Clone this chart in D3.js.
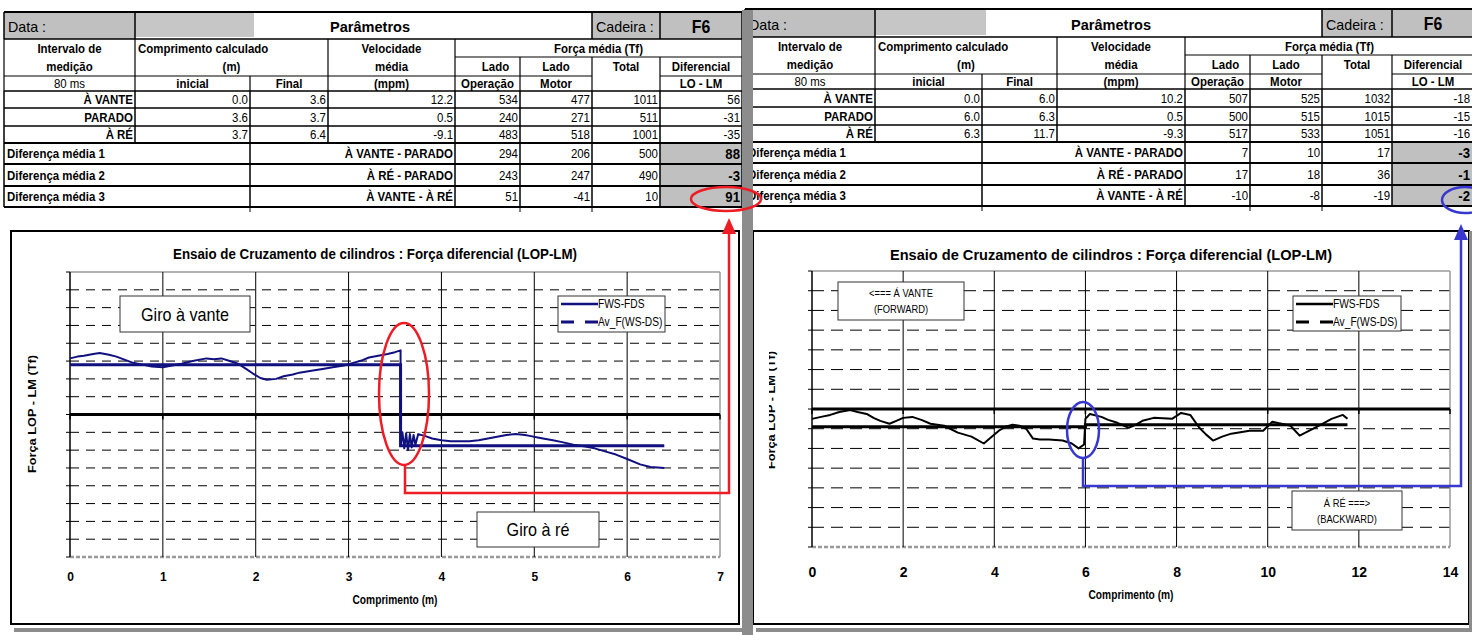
<!DOCTYPE html>
<html>
<head>
<meta charset="utf-8">
<script src="https://cdnjs.cloudflare.com/ajax/libs/d3/7.8.5/d3.min.js"></script>
<style>
  body { margin: 0; background: #fff; }
  svg { display: block; }
</style>
</head>
<body>
<script>
// ---------- data ----------
const rowLabels = ["À VANTE", "PARADO", "À RÉ"];
const diffLabels = ["Diferença média 1", "Diferença média 2", "Diferença média 3"];
const diffPairs = ["À VANTE - PARADO", "À RÉ - PARADO", "À VANTE - À RÉ"];

// inicial, final, velocidade, lado op, lado motor, total, diferencial
const leftRows = [
  ["0.0", "3.6", "12.2", "534", "477", "1011", "56"],
  ["3.6", "3.7", "0.5", "240", "271", "511", "-31"],
  ["3.7", "6.4", "-9.1", "483", "518", "1001", "-35"]
];
const leftDiffs = [
  ["294", "206", "500", "88"],
  ["243", "247", "490", "-3"],
  ["51", "-41", "10", "91"]
];
const rightRows = [
  ["0.0", "6.0", "10.2", "507", "525", "1032", "-18"],
  ["6.0", "6.3", "0.5", "500", "515", "1015", "-15"],
  ["6.3", "11.7", "-9.3", "517", "533", "1051", "-16"]
];
const rightDiffs = [
  ["7", "10", "17", "-3"],
  ["17", "18", "36", "-1"],
  ["-10", "-8", "-19", "-2"]
];

// force differential curves [comprimento (m), LOP-LM (Tf)]
const leftFws = [[0,63],[0.08,65],[0.15,66],[0.25,68],[0.32,69],[0.42,67],[0.5,65],[0.6,61],[0.68,58],
  [0.78,56],[0.88,54],[1.0,53],[1.1,55],[1.2,57],[1.32,60],[1.47,63],[1.55,62],[1.63,63],[1.72,60],
  [1.81,57],[1.9,51],[1.97,46],[2.05,41],[2.12,39],[2.22,40],[2.3,43],[2.4,45],[2.47,47],[2.6,49],
  [2.72,51],[2.83,53],[2.95,55],[3.05,58],[3.15,61],[3.22,64],[3.32,66],[3.42,68],[3.5,70],[3.56,72],
  [3.56,-35],[3.58,-20],[3.6,-38],[3.62,-21],[3.64,-40],[3.66,-22],[3.68,-37],[3.7,-23],[3.72,-34],
  [3.75,-22],[3.82,-24],[3.9,-27],[4.0,-29],[4.1,-30],[4.2,-30],[4.3,-30],[4.4,-29],[4.5,-27],
  [4.6,-25],[4.7,-23],[4.8,-22],[4.9,-23],[4.95,-24],[5.05,-26],[5.2,-29],[5.3,-31],[5.42,-34],
  [5.55,-36],[5.65,-38],[5.78,-42],[5.88,-45],[6.0,-50],[6.14,-56],[6.25,-59],[6.4,-60]];
const leftAvg = [[0,56],[3.56,56],[3.56,-35],[6.4,-35]];

const rightFws = [[0,-10],[0.2,-8],[0.4,-6],[0.6,-3],[0.84,-1],[1.0,-3],[1.2,-5],[1.35,-9],[1.5,-12],
  [1.7,-15],[1.85,-12],[2.0,-9],[2.2,-8],[2.4,-11],[2.6,-15],[2.9,-17],[3.2,-24],[3.5,-28],[3.77,-35],
  [3.95,-28],[4.1,-22],[4.25,-18],[4.4,-16],[4.55,-17],[4.7,-20],[4.85,-30],[5.0,-31],[5.2,-31],
  [5.5,-32],[5.7,-35],[5.85,-40],[5.97,-36],[6.0,-10],[6.1,-5],[6.35,-8],[6.5,-11],[6.7,-14],
  [6.95,-19],[7.1,-16],[7.25,-12],[7.5,-9],[7.9,-10],[8.1,-4],[8.3,-6],[8.5,-19],[8.65,-26],[8.8,-32],
  [9.0,-28],[9.2,-25],[9.6,-22],[9.9,-22],[10.1,-13],[10.3,-15],[10.5,-17],[10.7,-27],[11.0,-20],
  [11.2,-15],[11.4,-10],[11.65,-6],[11.75,-10]];
const rightAvg = [[0,-18],[6.0,-18],[6.0,-16],[11.75,-16]];

const leftXTicks = [0, 1, 2, 3, 4, 5, 6, 7];
const rightXTicks = [0, 2, 4, 6, 8, 10, 12, 14];
const leftYTicks = [-160,-140,-120,-100,-80,-60,-40,-20,0,20,40,60,80,100,120,140,160];
const rightYTicks = [-140,-120,-100,-80,-60,-40,-20,0,20,40,60,80,100,120,140];

const FONT = "'Liberation Sans', Arial, Helvetica, sans-serif";
const GRAY = "#c0c0c0";

const svg = d3.select("body").append("svg")
  .attr("width", 1472).attr("height", 635)
  .style("background", "#fff");

// text helper: arial-ish, squeezed a bit like the narrow print in the scan
function txt(g, x, y, s, o = {}) {
  const t = g.append("text")
    .attr("x", x).attr("y", y)
    .attr("font-family", FONT)
    .attr("font-size", o.size || 13)
    .attr("font-weight", o.bold ? "bold" : "normal")
    .attr("text-anchor", o.anchor || "start")
    .attr("dominant-baseline", "central")
    .attr("fill", o.fill || "#000")
    .text(s);
  const k = o.k === undefined ? 0.88 : o.k;
  if (o.len) {
    t.attr("textLength", o.len).attr("lengthAdjust", "spacingAndGlyphs");
  } else if (k !== 1) {
    const w = t.node().getComputedTextLength();
    t.attr("textLength", w * k).attr("lengthAdjust", "spacingAndGlyphs");
  }
  return t;
}

function hline(g, x0, x1, y, w = 1.5, col = "#000") {
  g.append("line").attr("x1", x0).attr("x2", x1).attr("y1", y).attr("y2", y)
    .attr("stroke", col).attr("stroke-width", w);
}
function vline(g, x, y0, y1, w = 1.5, col = "#000") {
  g.append("line").attr("x1", x).attr("x2", x).attr("y1", y0).attr("y2", y1)
    .attr("stroke", col).attr("stroke-width", w);
}

// ---------- tables ----------
function drawTable(c, r, rows, diffs, lastPad) {
  const g = svg.append("g");
  const mid = i => (r[i] + r[i + 1]) / 2;
  const right = j => (j === 8 ? c[8] - lastPad : c[j] - 2);

  // row 0 : Data / Parâmetros / Cadeira / F6
  g.append("rect").attr("x", c[0]).attr("y", r[0]).attr("width", c[1] - c[0]).attr("height", r[1] - r[0]).attr("fill", GRAY);
  g.append("rect").attr("x", c[1]).attr("y", r[0] + 1).attr("width", c[2] - c[1] + 4).attr("height", r[1] - r[0] - 3).attr("fill", "#c6c6c6");
  g.append("rect").attr("x", c[6]).attr("y", r[0]).attr("width", c[7] - c[6]).attr("height", r[1] - r[0]).attr("fill", GRAY);
  g.append("rect").attr("x", c[7]).attr("y", r[0]).attr("width", c[8] - c[7]).attr("height", r[1] - r[0]).attr("fill", GRAY);
  txt(g, c[0] + 4, mid(0) + 1, "Data :", { size: 15, k: 0.95 });
  txt(g, c[0] + 366, mid(0) + 1, "Parâmetros", { size: 15, bold: true, anchor: "middle", k: 0.97 });
  txt(g, c[6] + 4, mid(0) + 1, "Cadeira :", { size: 15, k: 0.95 });
  txt(g, (c[7] + c[8]) / 2, mid(0) + 1, "F6", { size: 18, bold: true, anchor: "middle" });

  // header rows
  const hb = { bold: true, anchor: "middle" };
  txt(g, (c[0] + c[1]) / 2, mid(1), "Intervalo de", hb);
  txt(g, c[1] + 3, mid(1), "Comprimento calculado", { bold: true });
  txt(g, (c[3] + c[4]) / 2, mid(1), "Velocidade", hb);
  txt(g, (c[4] + c[8]) / 2, mid(1), "Força média (Tf)", hb);
  txt(g, (c[0] + c[1]) / 2, mid(2), "medição", hb);
  txt(g, (c[1] + c[3]) / 2, mid(2), "(m)", hb);
  txt(g, (c[3] + c[4]) / 2, mid(2), "média", hb);
  txt(g, (c[4] + c[5]) / 2 + 8, mid(2), "Lado", hb);
  txt(g, (c[5] + c[6]) / 2, mid(2), "Lado", hb);
  txt(g, (c[6] + c[7]) / 2, mid(2), "Total", hb);
  txt(g, (c[7] + c[8]) / 2, mid(2), "Diferencial", hb);
  txt(g, (c[0] + c[1]) / 2, mid(3), "80 ms", { anchor: "middle" });
  txt(g, (c[1] + c[2]) / 2, mid(3), "inicial", hb);
  txt(g, (c[2] + c[3]) / 2, mid(3), "Final", hb);
  txt(g, (c[3] + c[4]) / 2, mid(3), "(mpm)", hb);
  txt(g, (c[4] + c[5]) / 2, mid(3), "Operação", hb);
  txt(g, (c[5] + c[6]) / 2, mid(3), "Motor", hb);
  txt(g, (c[7] + c[8]) / 2, mid(3), "LO - LM", hb);

  // measured rows
  rows.forEach((vals, i) => {
    const y = mid(4 + i);
    txt(g, c[1] - 2, y, rowLabels[i], { bold: true, anchor: "end" });
    vals.forEach((v, j) => txt(g, right(j + 2), y, v, { anchor: "end" }));
  });

  // difference rows
  diffs.forEach((vals, i) => {
    const y = mid(7 + i);
    g.append("rect").attr("x", c[7]).attr("y", r[7 + i]).attr("width", c[8] - c[7]).attr("height", r[8 + i] - r[7 + i]).attr("fill", GRAY);
    txt(g, c[0] + 3, y, diffLabels[i], { bold: true });
    txt(g, c[4] - 2, y, diffPairs[i], { bold: true, anchor: "end" });
    vals.forEach((v, j) => {
      const last = j === 3;
      txt(g, right(j + 5), y, v, { anchor: "end", bold: last, size: last ? 15 : 13 });
    });
  });

  // grid lines
  hline(g, c[0], c[8], r[0], 2);
  hline(g, c[0], c[8], r[1], 1.5);
  hline(g, c[4], c[8], r[2], 1.2);
  hline(g, c[0], c[6], r[3], 1.2);
  hline(g, c[7], c[8], r[3], 1.2);
  for (let i = 4; i <= 10; i++) hline(g, c[0], c[8], r[i], i >= 7 ? 2 : 1.5);
  [0, 1, 6, 7, 8].forEach(j => vline(g, c[j], r[0], r[1], 1.5));
  [0, 1, 3, 4, 8].forEach(j => vline(g, c[j], r[1], r[4], 1.2));
  [5, 6, 7].forEach(j => vline(g, c[j], r[2], r[4], 1.2));
  vline(g, c[2], r[3], r[4], 1.2);
  [0, 1, 2, 3, 4, 5, 6, 7, 8].forEach(j => vline(g, c[j], r[4], r[7], 1.5));
  [0, 2, 4, 5, 6, 7, 8].forEach(j => vline(g, c[j], r[7], r[10], 1.5));
  [2, 5, 6].forEach(j => vline(g, c[j], r[10], r[10] + 5, 1));
}

drawTable([4, 135, 250, 328, 455, 520, 592, 660, 742],
          [12, 39, 57, 76, 91, 108, 126, 143, 164, 186, 207], leftRows, leftDiffs, 2);
drawTable([745, 875, 982, 1057, 1185, 1250, 1322, 1392, 1474],
          [9, 37, 55, 74, 89, 107, 125, 142, 163, 185, 206], rightRows, rightDiffs, 4);

// ---------- charts ----------
function drawChart(cfg) {
  const g = svg.append("g");
  const p = cfg.plot;
  const x = d3.scaleLinear().domain(cfg.xDomain).range([p.x0, p.x1]);
  const y = d3.scaleLinear().domain(cfg.yDomain).range([p.y1, p.y0]);

  // box + shadow
  g.append("rect").attr("x", cfg.box.x0 + 3).attr("y", cfg.box.y1 + 4)
    .attr("width", cfg.box.x1 - cfg.box.x0).attr("height", 4).attr("fill", "#8c8c8c");
  g.append("rect").attr("x", cfg.box.x0).attr("y", cfg.box.y0)
    .attr("width", cfg.box.x1 - cfg.box.x0).attr("height", cfg.box.y1 - cfg.box.y0)
    .attr("fill", "#fff").attr("stroke", "#000").attr("stroke-width", 2);

  txt(g, (cfg.box.x0 + cfg.box.x1) / 2, cfg.titleY, cfg.title,
      { size: cfg.titleSize, bold: true, anchor: "middle", len: cfg.titleLen });

  // horizontal grid
  cfg.yTicks.forEach(t => {
    const yy = y(t);
    if (t === 0) return;
    if (t === cfg.yDomain[1]) { hline(g, p.x0, p.x1, yy, 1.5, "#9a9a9a"); return; }
    if (t === cfg.yDomain[0]) {
      g.append("line").attr("x1", p.x0).attr("x2", p.x1).attr("y1", yy).attr("y2", yy)
        .attr("stroke", "#9a9a9a").attr("stroke-width", 2.5).attr("stroke-dasharray", "4,2");
      return;
    }
    g.append("line").attr("x1", p.x0).attr("x2", p.x1).attr("y1", yy).attr("y2", yy)
      .attr("stroke", "#000").attr("stroke-width", 1).attr("stroke-dasharray", cfg.dash);
  });
  // vertical grid
  cfg.xTicks.forEach((t, i) => {
    if (i === 0) return;
    const last = i === cfg.xTicks.length - 1;
    vline(g, x(t), p.y0, p.y1, last ? 1.5 : 1, last ? "#9a9a9a" : "#000");
  });
  // left axis with ticks
  vline(g, p.x0, p.y0, p.y1, 1.5);
  cfg.yTicks.forEach(t => hline(g, p.x0 - 4, p.x0, y(t), 1));
  // zero line
  hline(g, p.x0, p.x1, y(0), 3);
  cfg.xTicks.forEach(t => vline(g, x(t), y(0), y(0) + 5, 1.5));

  // x axis labels
  const ax = d3.axisBottom(x).tickValues(cfg.xTicks).tickSize(0).tickPadding(0).tickFormat(d3.format("d"));
  const axg = g.append("g").attr("transform", `translate(0,${cfg.xLabelY})`).call(ax);
  axg.select(".domain").remove();
  axg.selectAll("text")
    .attr("font-family", FONT).attr("font-size", cfg.xLabelSize).attr("font-weight", "bold")
    .attr("fill", "#000").attr("dy", null).attr("y", 0).attr("dominant-baseline", "central");

  txt(g, (p.x0 + p.x1) / 2, cfg.xTitleY, "Comprimento (m)", { size: 12, bold: true, anchor: "middle", k: 0.85 });

  // y axis title
  const yl = g.append("g");
  if (cfg.yLabelClip) {
    svg.append("clipPath").attr("id", "ylclip").append("rect")
      .attr("x", cfg.yLabelClip).attr("y", 300).attr("width", 40).attr("height", 250);
    yl.attr("clip-path", "url(#ylclip)");
  }
  txt(yl, 0, 0, "Força LOP - LM (Tf)", { size: 11, bold: true, anchor: "middle", len: 118 })
    .attr("transform", `translate(${cfg.yLabelX},${cfg.yLabelY}) rotate(-90)`);

  // series
  const line = d3.line().x(d => x(d[0])).y(d => y(d[1]));
  g.append("path").datum(cfg.avg).attr("d", line)
    .attr("fill", "none").attr("stroke", cfg.color).attr("stroke-width", 3);
  g.append("path").datum(cfg.fws).attr("d", line)
    .attr("fill", "none").attr("stroke", cfg.color).attr("stroke-width", 2).attr("stroke-linejoin", "round");

  // legend
  const L = cfg.legend;
  g.append("rect").attr("x", L.x0).attr("y", L.y0).attr("width", L.x1 - L.x0).attr("height", L.y1 - L.y0)
    .attr("fill", "#fff").attr("stroke", "#333").attr("stroke-width", 1);
  const ly1 = L.y0 + 8, ly2 = L.y0 + 26;
  g.append("line").attr("x1", L.x0 + 3).attr("x2", L.x0 + 40).attr("y1", ly1).attr("y2", ly1)
    .attr("stroke", cfg.color).attr("stroke-width", 2.5);
  g.append("line").attr("x1", L.x0 + 3).attr("x2", L.x0 + 40).attr("y1", ly2).attr("y2", ly2)
    .attr("stroke", cfg.color).attr("stroke-width", 3).attr("stroke-dasharray", "13,11");
  txt(g, L.x0 + 40, ly1, "FWS-FDS", { size: 12, k: 0.85 });
  txt(g, L.x0 + 40, ly2, "Av_F(WS-DS)", { size: 12, k: 0.85 });

  return g;
}

function noteBox(x0, y0, x1, y1, lines, size) {
  const g = svg.append("g");
  g.append("rect").attr("x", x0).attr("y", y0).attr("width", x1 - x0).attr("height", y1 - y0)
    .attr("fill", "#fff").attr("stroke", "#333").attr("stroke-width", 1);
  const step = size + 5;
  const top = (y0 + y1) / 2 - (lines.length - 1) * step / 2;
  lines.forEach((s, i) => txt(g, (x0 + x1) / 2, top + i * step, s, { size, anchor: "middle", k: 0.85 }));
}

drawChart({
  box: { x0: 11, y0: 231, x1: 739, y1: 624 },
  plot: { x0: 70, y0: 272, x1: 720, y1: 557 },
  xDomain: [0, 7], yDomain: [-160, 160],
  xTicks: leftXTicks, yTicks: leftYTicks,
  title: "Ensaio de Cruzamento de cilindros : Força diferencial (LOP-LM)",
  titleY: 254, titleSize: 14, titleLen: 404,
  dash: "9,7", xLabelY: 577, xLabelSize: 12, xTitleY: 600,
  yLabelX: 32, yLabelY: 414,
  color: "#10107f", fws: leftFws, avg: leftAvg,
  legend: { x0: 558, y0: 296, x1: 665, y1: 332 }
});
noteBox(120, 296, 250, 332, ["Giro à vante"], 19);
noteBox(477, 512, 599, 547, ["Giro à ré"], 19);

drawChart({
  box: { x0: 753, y0: 231, x1: 1469, y1: 624 },
  plot: { x0: 812, y0: 271, x1: 1450, y1: 547 },
  xDomain: [0, 14], yDomain: [-140, 140],
  xTicks: rightXTicks, yTicks: rightYTicks,
  title: "Ensaio de Cruzamento de cilindros : Força diferencial (LOP-LM)",
  titleY: 254, titleSize: 15, titleLen: 442,
  dash: "12,7", xLabelY: 572, xLabelSize: 14, xTitleY: 595,
  yLabelX: 771, yLabelY: 410, yLabelClip: 769,
  color: "#000", fws: rightFws, avg: rightAvg,
  legend: { x0: 1293, y0: 296, x1: 1401, y1: 331 }
});
noteBox(838, 282, 964, 320, ["<=== Á VANTE", "(FORWARD)"], 11);
noteBox(1292, 491, 1402, 530, ["Á RÉ ===>", "(BACKWARD)"], 11);

// separator bar between the two sheets
svg.append("rect").attr("x", 742).attr("y", 10).attr("width", 11).attr("height", 625).attr("fill", "#8c8c8c");
svg.append("rect").attr("x", 1469).attr("y", 231).attr("width", 3).attr("height", 400).attr("fill", "#8c8c8c");

// ---------- annotations ----------
function annotate(color, ring, mark, path) {
  const g = svg.append("g").attr("fill", "none").attr("stroke", color).attr("stroke-width", 2.5);
  g.append("ellipse").attr("cx", ring[0]).attr("cy", ring[1]).attr("rx", ring[2]).attr("ry", ring[3]);
  g.append("ellipse").attr("cx", mark[0]).attr("cy", mark[1]).attr("rx", mark[2]).attr("ry", mark[3]);
  g.append("path").attr("d", d3.line()(path));
  const tip = path[path.length - 1];
  svg.append("path")
    .attr("d", `M${tip[0]},${tip[1] - 4} L${tip[0] - 7},${tip[1] + 12} L${tip[0] + 7},${tip[1] + 12} Z`)
    .attr("fill", color);
}
annotate("#ee1c25", [404, 394, 25, 71], [726, 199, 35, 12],
  [[405, 465], [405, 493], [729, 493], [729, 222]]);
annotate("#3838d0", [1083, 430, 16, 28], [1465, 200, 23, 13],
  [[1083, 458], [1083, 486], [1461, 486], [1461, 228]]);
</script>
</body>
</html>
